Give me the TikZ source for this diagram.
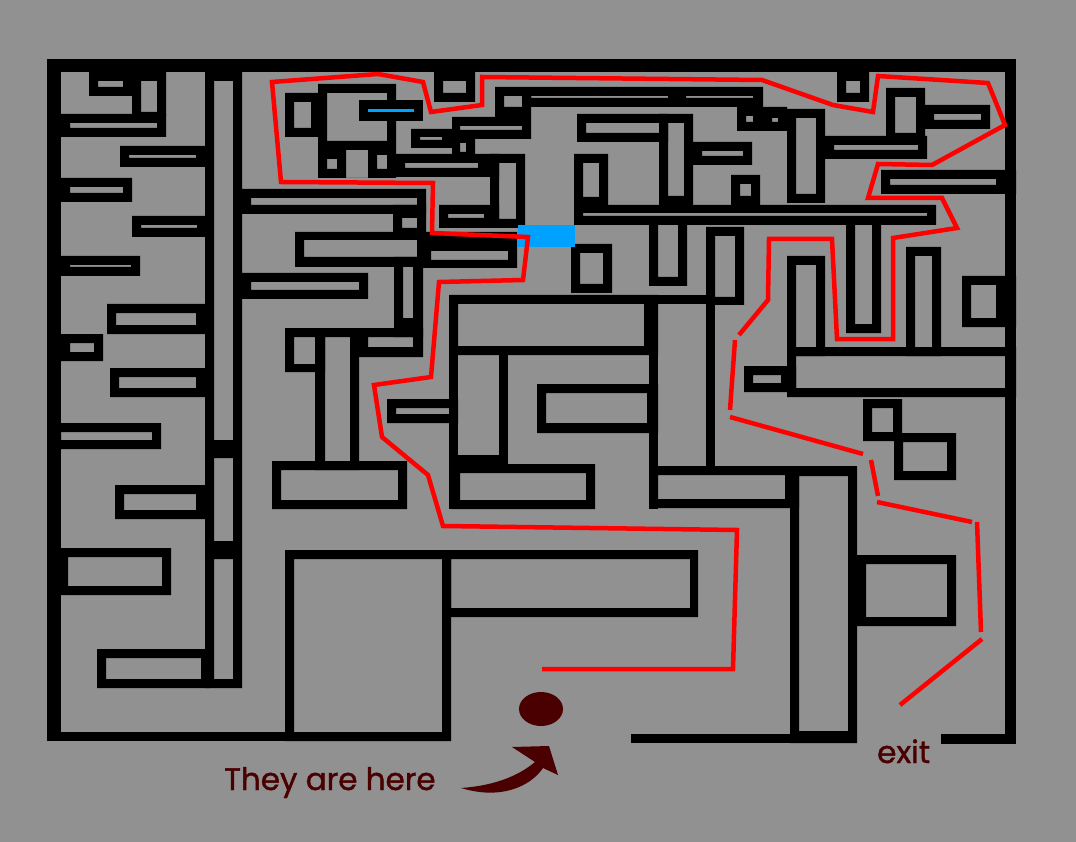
\documentclass[tikz,border=0pt]{standalone}
\usepackage{fontspec}
\usepackage{tikz}
\newfontfamily\handfont[FakeBold=1.3]{Poppins}
\definecolor{MazeGray}{RGB}{145,145,145}
\definecolor{DarkMaroon}{RGB}{74,0,0}
\definecolor{DoorBlue}{RGB}{0,162,255}

\begin{document}
\begin{tikzpicture}[x=1pt, y=-1pt,
	wall/.style={fill=black, even odd rule},
	route/.style={red, line width=4.5pt},
	notetext/.style={DarkMaroon, font=\handfont\fontsize{31}{36}\selectfont, inner sep=0pt, anchor=base west}]
	% 背景
	\fill[MazeGray] (0,0) rectangle (1076,842);
	\useasboundingbox (0,0) rectangle (1076,842);
	
	% 外墙
	\fill[wall] (47,59) rectangle (1016,72);
	\fill[wall] (47,59) rectangle (61,741);
	\fill[wall] (1005,59) rectangle (1016,744);
	\fill[wall] (47,732) rectangle (451,741);
	\fill[wall] (631,734) rectangle (857,743);
	\fill[wall] (941,734) rectangle (1016,744);
	
	% 左侧
	\fill[wall] (89,72) rectangle (132,96) (98,81) rectangle (123,87);
	\fill[wall] (132,72) rectangle (166,116) (141,81) rectangle (157,112);
	\fill[wall] (61,114) rectangle (166,137) (70,123) rectangle (157,128);
	\fill[wall] (205,72) rectangle (242,688) (214,81) rectangle (233,440)
		(214,458) rectangle (233,541) (214,559) rectangle (233,679);
	\fill[wall] (120,146) rectangle (205,167) (129,155) rectangle (196,158);
	\fill[wall] (61,178) rectangle (132,202) (70,187) rectangle (123,193);
	\fill[wall] (132,216) rectangle (205,237) (141,225) rectangle (197,228);
	\fill[wall] (61,256) rectangle (140,276) (70,265) rectangle (131,267);
	\fill[wall] (107,304) rectangle (205,334) (116,313) rectangle (196,325);
	\fill[wall] (61,334) rectangle (103,361) (70,343) rectangle (94,352);
	\fill[wall] (110,368) rectangle (205,397) (119,377) rectangle (196,388);
	\fill[wall] (61,423) rectangle (161,449) (61,432) rectangle (152,440);
	\fill[wall] (115,485) rectangle (205,519) (124,494) rectangle (196,510);
	\fill[wall] (61,548) rectangle (171,595) (68,557) rectangle (162,586);
	\fill[wall] (97,649) rectangle (210,688) (106,658) rectangle (201,679);
	
	% 中左
	\fill[wall] (434,72) rectangle (475,102) (443,81) rectangle (466,93);
	\fill[wall] (285,93) rectangle (320,137) (294,102) rectangle (311,128);
	\fill[wall] (318,84) rectangle (396,178) (327,93) rectangle (387,141)
		(346,150) rectangle (368,178) (327,159) rectangle (337,169) (377,155) rectangle (387,169);
	\fill[wall] (359,100) rectangle (423,121);
	\fill[DoorBlue] (368,109) rectangle (414,112);
	\fill[wall] (396,154) rectangle (499,177) (405,163) rectangle (478,168);
	\fill[wall] (490,154) rectangle (525,228) (499,163) rectangle (516,219);
	\fill[wall] (439,205) rectangle (499,228) (448,214) rectangle (484,218);
	\fill[wall] (411,129) rectangle (452,148) (420,137) rectangle (442,140);
	\fill[wall] (452,131) rectangle (475,154) (460,143) rectangle (466,152);
	\fill[wall] (452,117) rectangle (531,139) (460,126) rectangle (522,130);
	\fill[wall] (495,87) rectangle (531,117) (504,96) rectangle (522,107);
	\fill[wall] (242,189) rectangle (426,214) (251,198) rectangle (417,205);
	\fill[wall] (393,205) rectangle (426,240) (402,218) rectangle (417,228);
	\fill[wall] (295,232) rectangle (426,267) (304,240) rectangle (417,257);
	\fill[wall] (422,232) rectangle (517,268) (431,251) rectangle (508,260);
	\fill[wall] (394,257) rectangle (423,337) (403,267) rectangle (413,318);
	\fill[wall] (242,273) rectangle (368,299) (251,282) rectangle (359,290);
	\fill[wall] (285,328) rectangle (325,372) (294,337) rectangle (315,364);
	\fill[wall] (350,328) rectangle (423,357) (368,337) rectangle (413,347);
	\fill[wall] (315,328) rectangle (359,470) (325,337) rectangle (350,461);
	\fill[wall] (272,461) rectangle (407,509) (281,470) rectangle (398,500);
	\fill[wall] (387,399) rectangle (458,423) (396,408) rectangle (449,414);
	
	% 下方
	\fill[wall] (285,550) rectangle (451,741) (294,559) rectangle (442,732);
	\fill[wall] (442,550) rectangle (698,617) (451,559) rectangle (690,608);
	
	% 中部
	\fill[wall] (449,295) rectangle (715,304);
	\fill[wall] (449,295) rectangle (458,509);
	\fill[wall] (449,295) rectangle (658,355) (458,304) rectangle (644,346);
	\fill[wall] (649,295) rectangle (658,509);
	\fill[wall] (499,346) rectangle (508,473);
	\fill[wall] (449,455) rectangle (508,473);
	\fill[wall] (452,464) rectangle (595,509) (460,473) rectangle (586,500);
	\fill[wall] (537,384) rectangle (658,433) (546,393) rectangle (647,423);
	\fill[wall] (706,227) rectangle (744,305) (715,236) rectangle (735,297);
	\fill[wall] (706,295) rectangle (715,475);
	\fill[wall] (649,466) rectangle (857,475);
	\fill[wall] (649,466) rectangle (799,508) (658,475) rectangle (785,499);
	\fill[wall] (790,467) rectangle (857,743) (799,476) rectangle (848,731);
	\fill[wall] (857,555) rectangle (956,626) (866,564) rectangle (947,617);
	
	% 上方
	\fill[wall] (531,87) rectangle (763,107) (531,96) rectangle (668,98) (686,96) rectangle (753,98);
	\fill[wall] (737,107) rectangle (787,131) (746,116) rectangle (753,122) (772,118) rectangle (778,122);
	\fill[wall] (577,114) rectangle (668,142) (586,123) rectangle (659,133);
	\fill[wall] (659,114) rectangle (693,205) (668,123) rectangle (684,196);
	\fill[wall] (693,142) rectangle (752,165) (702,151) rectangle (743,156);
	\fill[wall] (731,175) rectangle (760,205) (740,184) rectangle (751,196);
	\fill[wall] (574,154) rectangle (608,205) (583,163) rectangle (599,197);
	\fill[wall] (574,205) rectangle (936,225) (583,213) rectangle (927,216);
	\fill[wall] (571,244) rectangle (612,293) (580,253) rectangle (603,284);
	\fill[wall] (649,225) rectangle (687,286) (658,225) rectangle (678,277);
	
	% 右侧
	\fill[wall] (787,109) rectangle (825,203) (796,118) rectangle (816,194);
	\fill[wall] (837,72) rectangle (869,102) (846,81) rectangle (860,93);
	\fill[wall] (886,88) rectangle (925,136) (895,97) rectangle (916,133);
	\fill[wall] (925,105) rectangle (990,129) (934,114) rectangle (981,120);
	\fill[wall] (825,136) rectangle (927,159) (834,145) rectangle (918,150);
	\fill[wall] (881,170) rectangle (1016,194) (890,179) rectangle (996,185);
	\fill[wall] (846,225) rectangle (881,333) (855,225) rectangle (872,324);
	\fill[wall] (906,247) rectangle (941,356) (915,256) rectangle (932,347);
	\fill[wall] (962,276) rectangle (1016,327) (971,285) rectangle (996,318);
	\fill[wall] (787,256) rectangle (825,356) (796,265) rectangle (816,347);
	\fill[wall] (787,347) rectangle (1016,397) (796,356) rectangle (1005,388);
	\fill[wall] (744,366) rectangle (796,392) (753,375) rectangle (781,383);
	\fill[wall] (863,399) rectangle (902,441) (872,408) rectangle (893,432);
	\fill[wall] (894,433) rectangle (956,480) (903,442) rectangle (947,471);
	
	% 蓝色门
	\fill[DoorBlue] (518,225) rectangle (575,247);
	
	% 路线
	\draw[route] (542,669) -- (733,669) -- (737,530) -- (443,526) -- (428,475) -- (382,437)
		-- (374,385) -- (431,377) -- (439,282) -- (523,280) -- (528,237) -- (432,233)
		-- (433,183) -- (281,182) -- (272,82) -- (378,74) -- (423,82) -- (431,112)
		-- (482,105) -- (482,77) -- (762,80) -- (833,105) -- (873,112) -- (878,76)
		-- (988,83) -- (1005,125) -- (932,165) -- (878,164) -- (868,198) -- (942,198)
		-- (957,228) -- (893,238) -- (893,339) -- (837,339) -- (832,239) -- (769,239)
		-- (768,300) -- (739,335);
	\draw[route] (735,340) -- (730,410);
	\draw[route] (730,417) -- (863,454);
	\draw[route] (871,460) -- (878,496);
	\draw[route] (877,502) -- (972,522);
	\draw[route] (977,522) -- (981,632);
	\draw[route] (982,639) -- (900,705);
	
	% 位置标记
	\fill[DarkMaroon] (541,709) ellipse (22 and 17);
	\fill[DarkMaroon] (461,788) .. controls (490,786) and (516,778) .. (535,762)
		-- (512,747) -- (549,746) -- (558,775) -- (543,768)
		.. controls (530,787) and (500,800) .. (461,788) -- cycle;
	
	% 文字
	\node[notetext] (herelabel) at (224,790) {They are here};
	\node[notetext] (exitlabel) at (877,763) {exit};
\end{tikzpicture}
\end{document}
